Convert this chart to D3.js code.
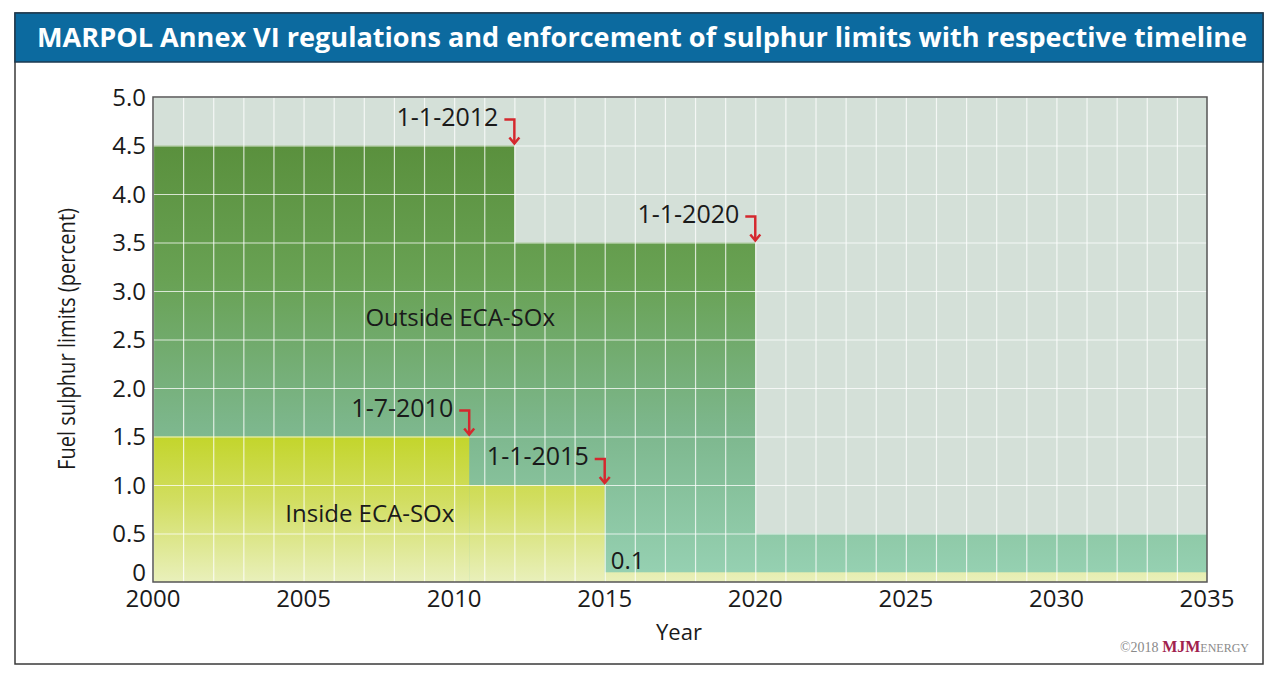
<!DOCTYPE html>
<html>
<head>
<meta charset="utf-8">
<script src="https://cdn.jsdelivr.net/npm/d3@7"></script>
<style>
  body { margin: 0; background: #fff; }
  svg { font-family: "Open Sans", sans-serif; }
</style>
</head>
<body>
<div id="chart"></div>
<script>
// step limits, the value applies from year[i] to year[i+1]
const outsideYears = [2000, 2012, 2020, 2035];
const outsideLimits = [4.5, 3.5, 0.5];
const insideYears = [2000, 2010.5, 2015, 2035];
const insideLimits = [1.5, 1.0, 0.1];

const annoLabels = ["1-1-2012", "1-1-2020", "1-7-2010", "1-1-2015"];
const annoYears = [2012, 2020, 2010.5, 2015];
const annoValues = [4.5, 3.5, 1.5, 1.0];

const yTicks = [0, 0.5, 1, 1.5, 2, 2.5, 3, 3.5, 4, 4.5, 5];
const xTicks = [2000, 2005, 2010, 2015, 2020, 2025, 2030, 2035];

const W = 1279, H = 678;

const svg = d3.select("#chart")
  .append("svg")
  .attr("width", W)
  .attr("height", H);

const defs = svg.append("defs");

const xScale = d3.scaleLinear().domain([2000, 2035]).range([153, 1207]);
const yScale = d3.scaleLinear().domain([0, 5]).range([582, 97]);

// frame + title bar
svg.append("rect")
  .attr("x", 15).attr("y", 13)
  .attr("width", 1248).attr("height", 651)
  .attr("fill", "#fff")
  .attr("stroke", "#3a3a3a")
  .attr("stroke-width", 1.5);

svg.append("rect")
  .attr("x", 15).attr("y", 13)
  .attr("width", 1248).attr("height", 49)
  .attr("fill", "#0c6a9f")
  .attr("stroke", "#1c3a50")
  .attr("stroke-width", 1.5);

svg.append("text")
  .attr("x", 37).attr("y", 47)
  .attr("fill", "#fff")
  .attr("font-size", 26)
  .attr("font-weight", 700)
  .attr("textLength", 1210)
  .attr("lengthAdjust", "spacingAndGlyphs")
  .text("MARPOL Annex VI regulations and enforcement of sulphur limits with respective timeline");

// gradients
const gOut = defs.append("linearGradient")
  .attr("id", "gradOut")
  .attr("gradientUnits", "userSpaceOnUse")
  .attr("x1", 0).attr("x2", 0)
  .attr("y1", yScale(4.5)).attr("y2", yScale(0));
gOut.append("stop").attr("offset", 0).attr("stop-color", "#5a903d");
gOut.append("stop").attr("offset", 0.3).attr("stop-color", "#68a153");
gOut.append("stop").attr("offset", 0.65).attr("stop-color", "#7db78d");
gOut.append("stop").attr("offset", 1).attr("stop-color", "#97d2b4");

const gIn = defs.append("linearGradient")
  .attr("id", "gradIn")
  .attr("gradientUnits", "userSpaceOnUse")
  .attr("x1", 0).attr("x2", 0)
  .attr("y1", yScale(1.5)).attr("y2", yScale(0));
gIn.append("stop").attr("offset", 0).attr("stop-color", "#c3d52b");
gIn.append("stop").attr("offset", 0.45).attr("stop-color", "#d2de62");
gIn.append("stop").attr("offset", 1).attr("stop-color", "#e9f0bb");

const plot = svg.append("g");

plot.append("rect")
  .attr("x", xScale(2000)).attr("y", yScale(5))
  .attr("width", xScale(2035) - xScale(2000))
  .attr("height", yScale(0) - yScale(5))
  .attr("fill", "#d4e0d8");

function steps(years, limits) {
  return limits.map((v, i) => ({ x0: years[i], x1: years[i + 1], v }));
}

plot.selectAll(".out")
  .data(steps(outsideYears, outsideLimits))
  .join("rect")
  .attr("class", "out")
  .attr("x", d => xScale(d.x0))
  .attr("width", d => xScale(d.x1) - xScale(d.x0))
  .attr("y", d => yScale(d.v))
  .attr("height", d => yScale(0) - yScale(d.v))
  .attr("fill", "url(#gradOut)");

plot.selectAll(".in")
  .data(steps(insideYears, insideLimits))
  .join("rect")
  .attr("class", "in")
  .attr("x", d => xScale(d.x0))
  .attr("width", d => xScale(d.x1) - xScale(d.x0))
  .attr("y", d => yScale(d.v))
  .attr("height", d => yScale(0) - yScale(d.v))
  .attr("fill", "url(#gradIn)");

// grid
plot.append("g")
  .attr("transform", `translate(0,${yScale(0)})`)
  .call(d3.axisBottom(xScale).ticks(35).tickSize(-(yScale(0) - yScale(5))).tickFormat(""))
  .call(g => g.select(".domain").remove())
  .call(g => g.selectAll("line").attr("stroke", "#fff").attr("stroke-opacity", 0.75).attr("stroke-width", 1.2));

plot.append("g")
  .attr("transform", `translate(${xScale(2000)},0)`)
  .call(d3.axisLeft(yScale).tickValues(yTicks).tickSize(-(xScale(2035) - xScale(2000))).tickFormat(""))
  .call(g => g.select(".domain").remove())
  .call(g => g.selectAll("line").attr("stroke", "#fff").attr("stroke-opacity", 0.75).attr("stroke-width", 1.2));

plot.append("rect")
  .attr("x", xScale(2000)).attr("y", yScale(5))
  .attr("width", xScale(2035) - xScale(2000))
  .attr("height", yScale(0) - yScale(5))
  .attr("fill", "none")
  .attr("stroke", "#555")
  .attr("stroke-width", 1.5);

// tick labels
svg.append("g")
  .selectAll("text")
  .data(yTicks)
  .join("text")
  .attr("x", 146)
  .attr("y", d => yScale(d) - (d === 0 ? 10 : 0))
  .attr("dy", "0.36em")
  .attr("text-anchor", "end")
  .attr("font-size", 24)
  .attr("fill", "#1a1a1a")
  .text(d => d === 0 ? "0" : d3.format(".1f")(d));

svg.append("g")
  .selectAll("text")
  .data(xTicks)
  .join("text")
  .attr("x", d => xScale(d))
  .attr("y", 607)
  .attr("text-anchor", "middle")
  .attr("font-size", 24)
  .attr("fill", "#1a1a1a")
  .text(d => d);

svg.append("text")
  .attr("x", 679).attr("y", 640)
  .attr("text-anchor", "middle")
  .attr("font-size", 22)
  .attr("fill", "#1a1a1a")
  .text("Year");

svg.append("text")
  .attr("transform", "translate(75,339) rotate(-90)")
  .attr("text-anchor", "middle")
  .style("font-family", "'Liberation Sans Narrow', 'Open Sans', sans-serif")
  .attr("font-size", 24)
  .attr("fill", "#1a1a1a")
  .attr("textLength", 262)
  .attr("lengthAdjust", "spacingAndGlyphs")
  .text("Fuel sulphur limits (percent)");

// area labels
svg.append("text")
  .attr("x", xScale(2010.2)).attr("y", yScale(2.73))
  .attr("dy", "0.36em")
  .attr("text-anchor", "middle")
  .attr("font-size", 24)
  .attr("fill", "#1a1a1a")
  .text("Outside ECA-SOx");

svg.append("text")
  .attr("x", xScale(2007.2)).attr("y", yScale(0.71))
  .attr("dy", "0.36em")
  .attr("text-anchor", "middle")
  .attr("font-size", 24)
  .attr("fill", "#1a1a1a")
  .text("Inside ECA-SOx");

svg.append("text")
  .attr("x", xScale(2015.2)).attr("y", yScale(0.22))
  .attr("dy", "0.36em")
  .attr("font-size", 24)
  .attr("fill", "#1a1a1a")
  .text("0.1");

// date annotations with red elbow arrows
const anno = svg.append("g")
  .selectAll("g")
  .data(annoLabels.map((t, i) => ({ t, yr: annoYears[i], v: annoValues[i] })))
  .join("g")
  .attr("transform", d => `translate(${xScale(d.yr)},${yScale(d.v)})`);

anno.append("text")
  .attr("x", -16).attr("y", -29)
  .attr("dy", "0.36em")
  .attr("text-anchor", "end")
  .attr("font-size", 25)
  .attr("fill", "#1a1a1a")
  .text(d => d.t);

anno.append("path")
  .attr("d", "M-10,-26H0V-2")
  .attr("fill", "none")
  .attr("stroke", "#d4282e")
  .attr("stroke-width", 2.5);

anno.append("path")
  .attr("d", "M-5,-8L0,-2L5,-8")
  .attr("fill", "none")
  .attr("stroke", "#d4282e")
  .attr("stroke-width", 2.5);

// credit
const credit = svg.append("text")
  .attr("x", 1249).attr("y", 652)
  .attr("text-anchor", "end")
  .style("font-family", "'Liberation Serif', 'DejaVu Serif', serif")
  .attr("font-size", 14)
  .attr("fill", "#8a8a8a");
credit.append("tspan").text("\u00a92018 ");
credit.append("tspan").attr("fill", "#a1214c").attr("font-weight", 700).attr("font-size", 16).text("MJM");
credit.append("tspan").attr("font-size", 12).text("ENERGY");
</script>
</body>
</html>
